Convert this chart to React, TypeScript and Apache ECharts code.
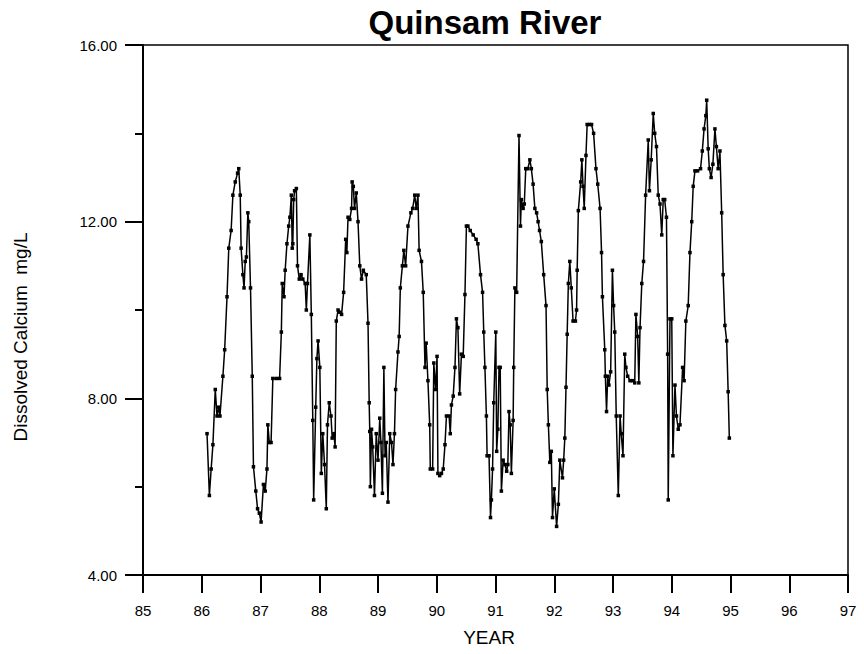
import React, { useEffect, useRef } from "react";
import * as echarts from "echarts";

// Sample dates (decimal years, 19xx) and dissolved calcium (mg/L)
const sampleYear: number[] = [
  86.09, 86.13, 86.16, 86.19, 86.23, 86.26, 86.29, 86.31, 86.36, 86.39, 86.43, 86.46, 86.5, 86.53, 86.57, 86.61, 86.63, 86.655, 86.67, 86.7,
  86.72, 86.74, 86.76, 86.785, 86.8, 86.83, 86.86, 86.88, 86.92, 86.95, 86.98, 87.01, 87.05, 87.08, 87.11, 87.125, 87.15, 87.18, 87.21, 87.27,
  87.325, 87.355, 87.37, 87.4, 87.42, 87.45, 87.48, 87.5, 87.525, 87.54, 87.55, 87.565, 87.58, 87.61, 87.63, 87.66, 87.69, 87.72, 87.76, 87.78,
  87.8, 87.84, 87.865, 87.89, 87.905, 87.94, 87.96, 87.98, 88.01, 88.035, 88.06, 88.09, 88.12, 88.14, 88.17, 88.2, 88.22, 88.25, 88.27, 88.29,
  88.32, 88.35, 88.38, 88.415, 88.45, 88.47, 88.49, 88.52, 88.55, 88.56, 88.58, 88.6, 88.63, 88.66, 88.69, 88.72, 88.75, 88.8, 88.83, 88.85,
  88.86, 88.87, 88.89, 88.91, 88.94, 88.97, 89.0, 89.03, 89.05, 89.075, 89.1, 89.12, 89.14, 89.17, 89.2, 89.23, 89.255, 89.28, 89.3, 89.34,
  89.36, 89.38, 89.415, 89.44, 89.47, 89.51, 89.56, 89.59, 89.625, 89.65, 89.68, 89.7, 89.74, 89.77, 89.8, 89.82, 89.85, 89.88, 89.89, 89.93,
  89.95, 89.98, 90.005, 90.02, 90.05, 90.08, 90.11, 90.14, 90.165, 90.21, 90.23, 90.25, 90.28, 90.31, 90.335, 90.36, 90.39, 90.42, 90.45, 90.48,
  90.505, 90.53, 90.57, 90.62, 90.67, 90.7, 90.745, 90.78, 90.8, 90.82, 90.845, 90.857, 90.89, 90.915, 90.93, 90.95, 90.97, 91.005, 91.02, 91.04,
  91.06, 91.08, 91.1, 91.13, 91.16, 91.19, 91.21, 91.23, 91.25, 91.27, 91.3, 91.31, 91.33, 91.36, 91.4, 91.425, 91.44, 91.47, 91.49, 91.515,
  91.55, 91.585, 91.61, 91.64, 91.67, 91.7, 91.725, 91.75, 91.78, 91.82, 91.86, 91.88, 91.9, 91.925, 91.95, 91.97, 92.0, 92.04, 92.07, 92.095,
  92.14, 92.16, 92.18, 92.2, 92.22, 92.24, 92.265, 92.29, 92.32, 92.36, 92.38, 92.39, 92.41, 92.45, 92.47, 92.49, 92.51, 92.54, 92.56, 92.6,
  92.635, 92.67, 92.71, 92.74, 92.78, 92.805, 92.82, 92.86, 92.87, 92.89, 92.91, 92.93, 92.96, 92.99, 93.01, 93.03, 93.055, 93.09, 93.12, 93.14,
  93.17, 93.2, 93.22, 93.25, 93.29, 93.33, 93.37, 93.39, 93.42, 93.44, 93.46, 93.49, 93.52, 93.555, 93.6, 93.62, 93.65, 93.685, 93.71, 93.74,
  93.77, 93.8, 93.83, 93.855, 93.88, 93.91, 93.93, 93.94, 93.97, 94.0, 94.02, 94.055, 94.08, 94.11, 94.14, 94.185, 94.21, 94.24, 94.28, 94.31,
  94.34, 94.365, 94.395, 94.44, 94.49, 94.52, 94.55, 94.58, 94.595, 94.62, 94.64, 94.67, 94.7, 94.735, 94.76, 94.79, 94.82, 94.85, 94.875, 94.905,
  94.935, 94.96, 94.98,
];

const calciumMgL: number[] = [
  7.2, 5.8, 6.4, 6.95, 8.2, 7.6, 7.8, 7.6, 8.5, 9.1, 10.3, 11.4, 11.8, 12.6, 12.9, 13.1, 13.2, 12.6, 11.4, 10.8,
  10.5, 11.1, 11.2, 12.2, 12.0, 10.5, 8.5, 6.45, 5.9, 5.5, 5.4, 5.2, 6.05, 5.9, 6.4, 7.4, 7.0, 7.0, 8.45, 8.45,
  8.45, 9.5, 10.6, 10.3, 10.9, 11.5, 11.9, 12.1, 12.6, 11.4, 11.5, 12.5, 12.7, 12.75, 11.0, 10.7, 10.8, 10.7, 10.6, 10.0,
  10.6, 11.7, 9.9, 7.5, 5.7, 7.8, 8.9, 9.3, 8.7, 6.3, 7.2, 6.5, 5.5, 7.4, 7.9, 7.6, 7.1, 7.2, 6.9, 9.75,
  10.0, 9.95, 9.9, 10.4, 11.6, 11.3, 12.1, 12.05, 12.3, 12.9, 12.8, 12.3, 12.65, 12.0, 11.0, 10.7, 10.9, 10.8, 9.7, 7.9,
  7.25, 6.0, 7.3, 6.9, 5.8, 7.2, 6.6, 7.55, 7.0, 5.85, 8.7, 6.7, 7.0, 5.65, 7.2, 7.0, 6.5, 7.2, 8.2, 9.05,
  9.4, 10.5, 11.0, 11.35, 11.0, 11.9, 12.2, 12.3, 12.6, 12.3, 12.6, 11.35, 11.1, 10.4, 8.7, 9.25, 8.4, 7.4, 6.4, 6.4,
  8.8, 8.2, 8.95, 6.3, 6.25, 6.3, 6.4, 6.95, 7.6, 7.6, 7.2, 7.85, 8.05, 8.7, 9.8, 9.6, 8.1, 9.0, 8.95, 10.35,
  11.9, 11.9, 11.8, 11.7, 11.6, 11.5, 10.8, 10.4, 9.5, 8.7, 7.6, 6.7, 6.7, 5.3, 5.7, 6.4, 7.9, 9.5, 6.8, 7.3,
  8.7, 8.7, 5.9, 6.6, 6.5, 6.35, 6.5, 7.7, 7.4, 6.3, 7.5, 8.7, 10.5, 10.4, 13.95, 11.9, 12.5, 12.3, 12.4, 13.2,
  13.2, 13.4, 13.2, 12.85, 12.3, 12.2, 12.0, 11.8, 11.55, 10.8, 10.1, 8.2, 7.4, 6.55, 6.8, 5.3, 5.95, 5.1, 5.6, 6.6,
  6.2, 6.6, 7.1, 8.25, 9.45, 10.6, 11.1, 10.5, 9.75, 9.75, 10.0, 10.9, 12.25, 12.9, 13.4, 12.8, 12.3, 13.5, 14.2, 14.2,
  14.2, 14.0, 13.2, 12.85, 12.3, 11.3, 10.3, 9.1, 8.5, 7.7, 8.5, 8.3, 8.6, 10.9, 10.1, 9.5, 7.6, 5.8, 7.6, 7.2,
  6.7, 9.0, 8.7, 8.5, 8.4, 8.4, 8.35, 9.9, 9.4, 8.35, 9.6, 10.6, 11.1, 12.6, 13.85, 12.7, 13.4, 14.45, 14.0, 13.7,
  12.6, 12.4, 11.7, 12.5, 12.5, 12.1, 9.0, 5.7, 9.8, 9.8, 6.7, 8.3, 7.6, 7.3, 7.4, 8.7, 8.4, 9.75, 10.1, 11.3,
  12.0, 12.8, 13.15, 13.15, 13.2, 13.6, 14.1, 14.4, 14.75, 13.65, 13.2, 13.0, 13.3, 14.1, 13.7, 13.2, 13.6, 12.2, 10.8, 9.65,
  9.3, 8.15, 7.1,
];

const xTickMin = 85;
const xTickMax = 97;
const yTickMin = 4;
const yTickMax = 16;

const FONT = "'Liberation Sans', Arial, sans-serif";

export default function App() {
  const ref = useRef<HTMLDivElement>(null);

  useEffect(() => {
    if (!ref.current) return;
    const chart = echarts.init(ref.current, undefined, { renderer: "svg" });
    const data = sampleYear.map((t, i) => [t, calciumMgL[i]]);
    chart.setOption({
      animation: false,
      backgroundColor: "#ffffff",
      title: {
        text: "Quinsam River",
        left: 480,
        top: 1,
        textAlign: "center",
        textStyle: { fontFamily: FONT, fontSize: 33, fontWeight: "bold", color: "#000" },
      },
      grid: {
        left: 143,
        right: 16,
        top: 45,
        bottom: 79,
        show: true,
        borderColor: "#000",
        borderWidth: 1.5,
        backgroundColor: "transparent",
      },
      xAxis: {
        type: "value",
        min: xTickMin,
        max: xTickMax,
        interval: 1,
        axisLine: { show: true, lineStyle: { color: "#000", width: 2 } },
        axisTick: { show: true, length: 18, lineStyle: { color: "#000", width: 2 } },
        splitLine: { show: false },
        axisLabel: { color: "#000", fontFamily: FONT, fontSize: 15, margin: 28 },
      },
      yAxis: {
        type: "value",
        min: yTickMin,
        max: yTickMax,
        interval: 4,
        axisLine: { show: true, lineStyle: { color: "#000", width: 2 } },
        axisTick: { show: true, length: 18, lineStyle: { color: "#000", width: 2 } },
        minorTick: { show: true, splitNumber: 2, length: 8, lineStyle: { color: "#000", width: 2 } },
        splitLine: { show: false },
        axisLabel: {
          color: "#000",
          fontFamily: FONT,
          fontSize: 15,
          margin: 26,
          formatter: (v: number) => v.toFixed(2),
        },
      },
      graphic: [
        {
          type: "text",
          x: 20,
          y: 337,
          rotation: Math.PI / 2,
          style: {
            text: "Dissolved Calcium  mg/L",
            fontFamily: FONT,
            fontSize: 19,
            fill: "#000",
            textAlign: "center",
            textVerticalAlign: "middle",
          },
        },
        {
          type: "text",
          x: 489,
          y: 637,
          style: {
            text: "YEAR",
            fontFamily: FONT,
            fontSize: 19,
            fill: "#000",
            textAlign: "center",
            textVerticalAlign: "middle",
          },
        },
      ],
      series: [
        {
          type: "line",
          data,
          showSymbol: true,
          symbol: "rect",
          symbolSize: 3.5,
          itemStyle: { color: "#000" },
          lineStyle: { color: "#000", width: 1.5 },
          silent: true,
        },
      ],
    });
    return () => chart.dispose();
  }, []);

  return (
    <div
      ref={ref}
      style={{ position: "fixed", left: 0, top: 0, width: 864, height: 654 }}
    />
  );
}
